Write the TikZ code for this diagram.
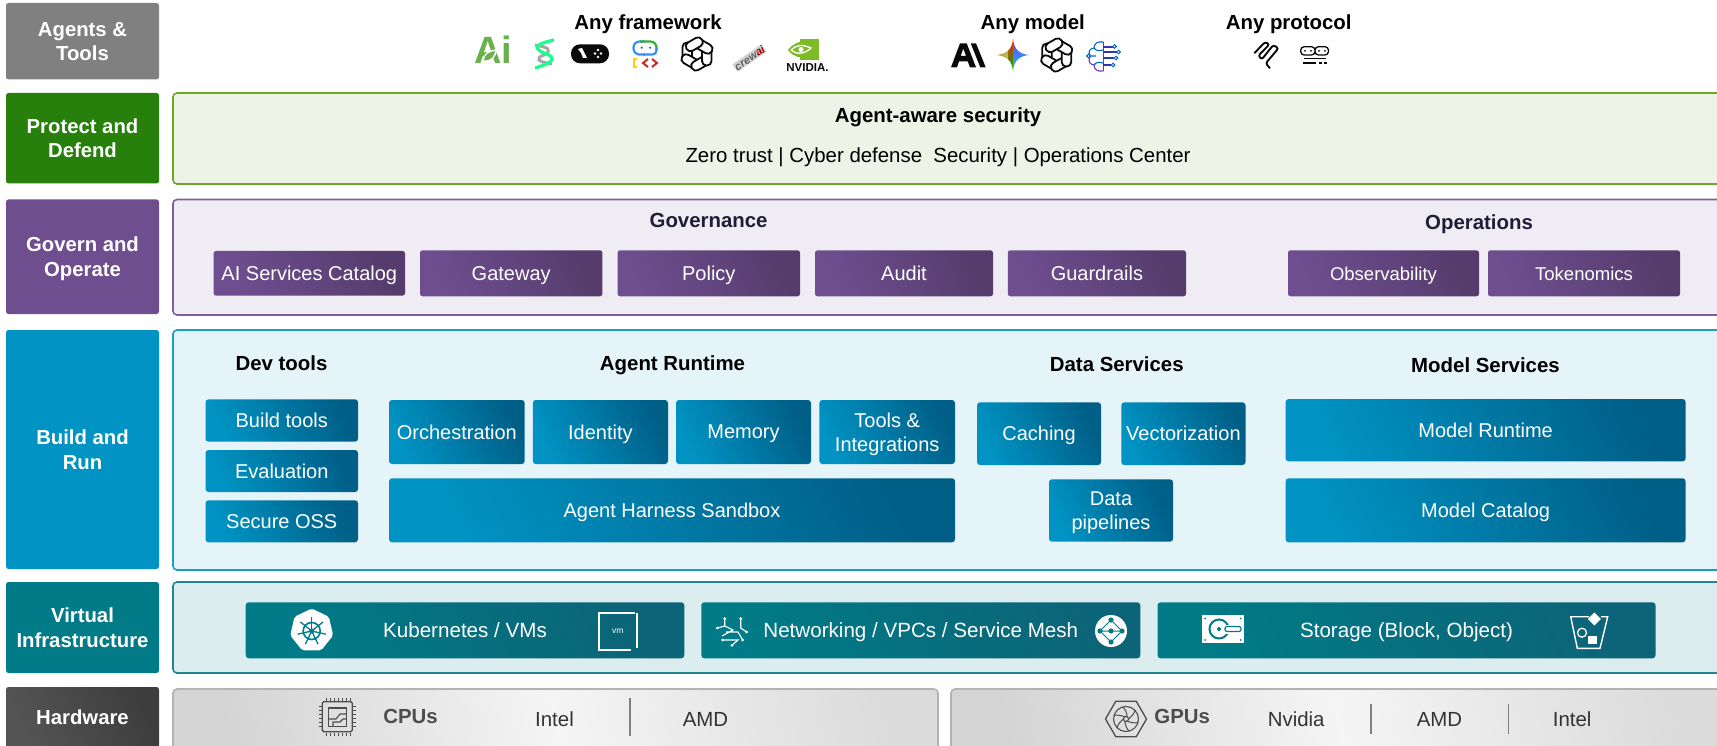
\documentclass[tikz,border=0pt]{standalone}
\usepackage{fontspec}
\setmainfont{Liberation Sans}
\usetikzlibrary{shapes.geometric}
\definecolor{tiergrey}{HTML}{808080}
\definecolor{tiergreen}{HTML}{26800B}
\definecolor{tierpurple}{HTML}{6F4E90}
\definecolor{tierblue}{HTML}{0093C3}
\definecolor{tierteal}{HTML}{007B87}
\definecolor{iconblack}{HTML}{0A0A0A}
\definecolor{hwgrey}{HTML}{4D4D4D}
\definecolor{navy}{HTML}{1E1E38}
\definecolor{leafgreen}{HTML}{6AB04C}
\definecolor{panelgreen}{HTML}{EDF3E5}
\definecolor{bordergreen}{HTML}{6AA621}
\definecolor{purpleend}{HTML}{553C6C}
\definecolor{blueend}{HTML}{005F87}
\definecolor{tealend}{HTML}{0C6478}
\newcommand{\chatlogo}[2]{%
\foreach \a in {0,60,...,300}
\draw [iconblack, fill=white, line width=1.8pt, rotate around={\a:(#1,#2)}, rounded corners=4.4pt] (#1-14.5,#2-11.5) rectangle (#1-5,#2+6.5);
}
\tikzset{
wh/.style 2 args={minimum width=#1pt, minimum height=#2pt},
tier/.style={rounded corners=2.5pt, inner sep=0pt, text depth=0pt, text=white, align=center, font=\fontsize{20.3}{24.5}\selectfont\bfseries},
panel/.style={rounded corners=4pt, line width=1.6pt, inner sep=0pt},
heading/.style={inner sep=0pt, text depth=0pt, align=center, font=\fontsize{20.4}{24}\selectfont\bfseries},
body/.style={inner sep=0pt, text depth=0pt, align=center, font=\fontsize{20.4}{24}\selectfont},
purplebox/.style={rounded corners=2.5pt, inner sep=0pt, text depth=0pt, text=white, align=center, font=\fontsize{20}{24}\selectfont, left color=tierpurple, right color=purpleend, shading angle=115},
bluebox/.style={rounded corners=3pt, inner sep=0pt, text depth=0pt, text=white, align=center, font=\fontsize{20}{24}\selectfont, left color=tierblue, right color=blueend, shading angle=115},
tealbox/.style={rounded corners=3pt, inner sep=0pt, text depth=0pt, text=white, align=center, font=\fontsize{20.6}{24}\selectfont, left color=tierteal, right color=tealend, shading angle=115},
hwpanel/.style={panel, draw=black!30, left color=black!17, right color=black!14, middle color=black!4, shading angle=100},
}
\begin{document}
\begin{tikzpicture}[x=1pt, y=-1pt]
\clip (0,0) rectangle (1717,746);
% tiers on the left
\node [tier, fill=tiergrey, wh={153}{76.5}] (agents) at (82.5,41.25) {Agents \&\\Tools};
\node [tier, fill=tiergreen, wh={153}{90.5}] (protect) at (82.5,138.25) {Protect and\\Defend};
\node [tier, fill=tierpurple, wh={153}{114.5}] (govern) at (82.5,256.75) {Govern and\\Operate};
\node [tier, fill=tierblue, wh={153}{239}] (build) at (82.5,449.5) {Build and\\Run};
\node [tier, fill=tierteal, wh={153}{91}] (virtual) at (82.5,627.5) {Virtual\\Infrastructure};
\node [tier, left color=black!67, right color=black!76, shading angle=115, wh={153}{61}] (hardware) at (82.5,717.5) {Hardware};
% panels
\node [panel, draw=bordergreen, fill=panelgreen, wh={1552}{91}] (protectpanel) at (949,138.5) {};
\node [panel, draw=tierpurple!90!white, fill=tierpurple!11!white, wh={1552}{115.5}] (governpanel) at (949,257.25) {};
\node [panel, draw=tierblue!90!white, fill=tierblue!10!white, wh={1552}{240}] (buildpanel) at (949,450) {};
\node [panel, draw=tierteal!90!white, fill=tierteal!14!white, wh={1552}{91}] (virtualpanel) at (949,627.5) {};
\node [hwpanel, wh={765}{63}] (cpupanel) at (555.5,720.5) {};
\node [hwpanel, wh={774}{63}] (gpupanel) at (1338,720.5) {};
% agents and tools
\node [heading] (anyframework) at (648,22.5) {Any framework};
\node [heading] (anymodel) at (1032.7,22.5) {Any model};
\node [heading] (anyprotocol) at (1288.7,22.5) {Any protocol};
\node [inner sep=0pt, text=leafgreen, font=\fontsize{38}{38}\selectfont\bfseries] (ailogo) at (493.5,50) {Ai};
\fill [white] (482,62) .. controls (482,53) and (490,50) .. (497,49) .. controls (497,57) and (491,63) .. (482,62);
\fill [leafgreen] (484,60.5) .. controls (484,54) and (490,52) .. (495,51) .. controls (495,56) and (490,61) .. (484,60.5);
\draw [gray!70, line width=3pt] (535,45) .. controls (548,47) and (553,50) .. (544,55) .. controls (535,58) and (537,62) .. (552,64);
\draw [green!50!cyan!90!white, line width=3.2pt] (554,40) .. controls (540,43) and (530,47) .. (544,53) .. controls (556,57) and (556,62) .. (535,68);
\node [fill=iconblack, rounded corners=9pt, wh={38}{19}, inner sep=0pt] (pilllogo) at (590,53.8) {};
\fill [white] (578,49) -- (582,48) -- (587,58) -- (583,58) -- (581,53) -- cycle;
\foreach \px/\py in {595/53.5,598/50,598/57,601/53.5} \fill [white] (\px,\py) circle (1.4);
\draw [blue!55!cyan!80!white, line width=2.2pt, rounded corners=6pt] (645,54.5) -- (633.5,54.5) -- (633.5,41.5) -- (645,41.5);
\draw [green!60!black!80!white, line width=2.2pt, rounded corners=6pt] (640,41.5) -- (656.5,41.5) -- (656.5,50);
\draw [blue!55!cyan!80!white, line width=2.2pt, rounded corners=4pt] (656.5,48) -- (656.5,54.5) -- (643,54.5);
\fill [blue!60!cyan] (641.7,47.7) circle (1.2) (650,47.7) circle (1.2);
\draw [yellow!70!orange, line width=2pt] (637,59) -- (634,59) -- (634,67) -- (637,67);
\draw [red!75!black!85!white, line width=2pt] (648,59) -- (643,63) -- (648,67) (652,59) -- (657,63) -- (652,67);
\chatlogo{697}{54}
\node [inner sep=.5pt, rotate=35, fill=gray!35, rounded corners=1pt, font=\fontsize{11}{12}\selectfont\bfseries\itshape, text=gray!75!black] (crewlogo) at (749.5,58) {crew\textcolor{red!65!black}{ai}};
\fill [leafgreen!60!lime!90!black] (800,39) rectangle (819,60);
\fill [leafgreen!60!lime!90!black] (788,50) .. controls (793,43) and (800,41) .. (808,41) -- (808,58) .. controls (800,58) and (793,57) .. (788,50);
\draw [white, line width=1.3pt] (791,50) .. controls (796,45) and (802,44) .. (811,48) .. controls (805,54) and (796,55) .. (791,50);
\fill [white] (801,49.5) circle (2.5);
\node [inner sep=0pt, text=iconblack, font=\fontsize{11.5}{12}\selectfont\bfseries] (nvidialogo) at (807.5,67.5) {NVIDIA.};
% any model
\fill [iconblack, even odd rule] (951,67.3) -- (960,43.3) -- (966.7,43.3) -- (976,67.3) -- (970,67.3) -- (967.7,61.3) -- (959,61.3) -- (957,67.3) -- cycle (960.7,56) -- (966,56) -- (963.3,48.5) -- cycle;
\fill [iconblack] (970.7,43.3) -- (976,43.3) -- (985.7,67.3) -- (980.3,67.3) -- cycle;
\begin{scope}
\clip (1013,39) .. controls (1014,49) and (1019,54) .. (1029,55) .. controls (1019,56) and (1014,61) .. (1013,71) .. controls (1012,61) and (1007,56) .. (997,55) .. controls (1007,54) and (1012,49) .. (1013,39) -- cycle;
\shade [top color=red!75!orange, bottom color=green!70!black] (997,39) rectangle (1013,71);
\shade [top color=purple!70!blue!80!white, bottom color=green!50!blue!60!white, middle color=blue!60!cyan!80!white] (1013,39) rectangle (1029,71);
\shade [left color=yellow!80!orange, right color=yellow!80!orange!0!white, opacity=.5] (997,50) rectangle (1008,60);
\end{scope}
\chatlogo{1056.7}{55}
\draw [blue!50!cyan!80!black, line width=1.1pt] (1103.3,42) -- (1103.3,71);
\draw [blue!50!cyan!80!black, line width=1.1pt] (1103.3,42) .. controls (1097,41) and (1094,44) .. (1094,48) .. controls (1089,49) and (1088,52) .. (1090,55);
\draw [blue!60!purple!80!white, line width=1.1pt] (1103.3,71) .. controls (1097,72) and (1094,69) .. (1094,65) .. controls (1089,64) and (1088,61) .. (1090,57);
\draw [blue!50!cyan!80!black, line width=1.1pt] (1090,56) -- (1096,56) (1094,48) .. controls (1096,51) and (1099,51) .. (1103,50) (1094,65) .. controls (1096,62) and (1099,62) .. (1103,63);
\draw [blue!50!cyan!80!black, line width=1.1pt] (1088.5,56) circle (1.8);
\draw [blue!60!black!80!white, line width=1.3pt] (1103.3,47) -- (1113,47) (1103.3,52) -- (1117,52) (1103.3,58) -- (1114,58) (1103.3,65) -- (1111,65);
\draw [blue!50!cyan!80!black, line width=1pt] (1114.5,46.5) circle (1.8) (1118.5,52) circle (1.8) (1116,58) circle (1.8) (1113,65) circle (1.8);
% any protocol
\draw [iconblack, line width=1.9pt, rounded corners=2.4pt] (1254.3,53.3) -- (1265,42) -- (1269.5,44.3) -- (1258.3,55.7) -- (1261.7,59.5) -- (1273.3,45) -- (1278.5,48.3) -- (1265.7,63.3) -- (1270,68.3);
\draw [iconblack, line width=1.3pt, rounded corners=3.5pt] (1300.7,46.7) rectangle (1315,55) (1315,46.7) rectangle (1328.5,55);
\fill [iconblack] (1305,50.8) circle (1) (1311,50.8) circle (1) (1319,50.8) circle (1) (1325,50.8) circle (1);
\draw [iconblack, line width=1.3pt] (1304,58.5) -- (1326,58.5) (1303,63) -- (1316,63) (1319,63) -- (1322,63) (1324,63) -- (1327,63);
% protect and defend
\node [heading, text=black] (security) at (938,115.5) {Agent-aware security};
\node [body, text=black] (zerotrust) at (938,155.5) {Zero trust | Cyber defense\ \ Security | Operations Center};
% govern and operate
\node [heading, text=navy] (governance) at (708.6,220.5) {Governance};
\node [heading, text=navy] (operations) at (1479,222) {Operations};
\node [purplebox, wh={191.4}{44.7}] (catalog) at (309.3,273.3) {AI Services Catalog};
\node [purplebox, wh={182.4}{46}] (gateway) at (511.2,273.3) {Gateway};
\node [purplebox, wh={182.4}{46}] (policy) at (708.8,273.3) {Policy};
\node [purplebox, wh={178}{46}] (audit) at (904,273.3) {Audit};
\node [purplebox, wh={178.2}{46}] (guardrails) at (1096.9,273.3) {Guardrails};
\node [purplebox, wh={191}{46}, font=\fontsize{18.5}{22}\selectfont] (observability) at (1383.5,273.3) {Observability};
\node [purplebox, wh={192}{46}, font=\fontsize{18.5}{22}\selectfont] (tokenomics) at (1584,273.3) {Tokenomics};
% build and run
\node [heading, text=black] (devtools) at (281.5,363) {Dev tools};
\node [heading, text=black] (agentruntime) at (672.5,363) {Agent Runtime};
\node [heading, text=black] (dataservices) at (1116.8,364) {Data Services};
\node [heading, text=black] (modelservices) at (1485.5,365) {Model Services};
\node [bluebox, wh={152.5}{42.4}] (buildtools) at (281.75,420.5) {Build tools};
\node [bluebox, wh={152.5}{42}] (evaluation) at (281.75,471) {Evaluation};
\node [bluebox, wh={152.5}{42}] (secureoss) at (281.75,521.3) {Secure OSS};
\node [bluebox, wh={135.7}{64}] (orchestration) at (456.85,432) {Orchestration};
\node [bluebox, wh={135.2}{64}] (identity) at (600.4,432) {Identity};
\node [bluebox, wh={135}{64}] (memory) at (743.5,432) {Memory};
\node [bluebox, wh={135.6}{64}] (integrations) at (887.2,432) {Tools \&\\Integrations};
\node [bluebox, wh={566}{64}] (harness) at (672,510.3) {Agent Harness Sandbox};
\node [bluebox, wh={124}{62.7}] (caching) at (1039,433.7) {Caching};
\node [bluebox, wh={124.2}{62.7}] (vectorization) at (1183.4,433.7) {Vectorization};
\node [bluebox, wh={124}{62.4}] (pipelines) at (1111,510.5) {Data\\pipelines};
\node [bluebox, wh={400}{62.3}] (modelruntime) at (1485.6,430.2) {Model Runtime};
\node [bluebox, wh={400}{64}] (modelcatalog) at (1485.6,510.3) {Model Catalog};
% virtual infrastructure
\node [tealbox, wh={438.6}{56}] (kubernetes) at (465,630.3) {Kubernetes / VMs};
\node [tealbox, wh={439}{56}] (networking) at (920.8,630.3) {Networking / VPCs / Service Mesh};
\node [tealbox, wh={498}{56}] (storage) at (1406.5,630.3) {Storage (Block, Object)};
\node [regular polygon, regular polygon sides=7, fill=white, rounded corners=2pt, minimum size=44pt, inner sep=0pt] (kubeicon) at (311.7,630.5) {};
\draw [tierteal, line width=1.6pt] (311.7,631) circle (8.5);
\fill [tierteal] (311.7,631) circle (2.5);
\foreach \a in {-90,-38.57,12.86,64.29,115.71,167.14,218.57}
\draw [tierteal, line width=1.3pt] (311.7,631) -- ++(\a:14.5);
\draw [white, line width=2pt] (635,612.7) -- (599,612.7) -- (599,649.5) -- (631,649.5) (636.5,613) -- (636.5,648);
\node [inner sep=0pt, text=white, font=\fontsize{8.5}{9}\selectfont] (vmlabel) at (617.7,631) {vm};
\draw [white, line width=1.1pt] (724.7,618.7) -- (724.7,626) -- (733,630) -- (722,636) (717.3,628) -- (724.7,626) (740.7,618.7) -- (740.7,628) -- (746.7,632) (726,632) -- (738,632) -- (742.7,640) (722.7,640) -- (738,640) -- (732,645.3);
\foreach \px/\py in {724.7/618.7,740.7/618.7,717.3/628,746.7/632,722.7/640,742.7/640,732/645.3}
\fill [white] (\px,\py) circle (1.5);
\fill [white] (1111,631) circle (16);
\draw [tierteal, line width=1pt] (1111,620) -- (1122,631) -- (1111,642) -- (1100,631) -- cycle (1100,631) -- (1122,631);
\foreach \px/\py/\pr in {1111/620/2.6,1122/631/2.6,1111/642/2.6,1100/631/2.6,1111/631/2.6}
\fill [tierteal] (\px,\py) circle (\pr);
\fill [white] (1201.7,615) rectangle (1244,643.3);
\foreach \px/\py in {1205/618.5,1240.5/618.5,1205/640,1240.5/640}
\fill [tierteal] (\px,\py) circle (1);
\draw [tierteal, line width=2pt] (1219,629) circle (9.5);
\fill [tierteal] (1219,629) circle (2);
\fill [white] (1224,624.5) rectangle (1232,633.5);
\draw [tierteal, line width=1.2pt, fill=white, rounded corners=2pt] (1225,626.5) rectangle (1241,631.5);
\draw [white, line width=1.4pt] (1589,616.7) -- (1570.7,616.7) -- (1577.3,648.3) -- (1600,648.3) -- (1607.7,616.7) -- (1601,616.7);
\fill [white] (1594.3,612.5) -- (1600.8,619) -- (1594.3,625.5) -- (1587.8,619) -- cycle;
\draw [white, line width=1.3pt] (1582,632.7) circle (4.5);
\fill [white] (1588.3,635.7) rectangle (1597.3,644.3);
% hardware
\draw [hwgrey, line width=1.3pt, rounded corners=1.5pt] (322.3,701.7) rectangle (352.3,731.7);
\draw [hwgrey, line width=1.1pt] (328.5,708) rectangle (346.5,726.5);
\draw [hwgrey, line width=1.1pt] (329,719) -- (336,719) -- (340,714) -- (346,714) (333,726) -- (333,722) -- (340,722) -- (343,719) -- (346,719);
\foreach \t in {326,330,334,338,342,346,350}
\draw [hwgrey, line width=.9pt] (\t,698) -- (\t,701) (\t,732.5) -- (\t,735.5);
\foreach \t in {706,710,714,718,722,726}
\draw [hwgrey, line width=.9pt] (318.5,\t) -- (321.5,\t) (353,\t) -- (356,\t);
\node [heading, text=hwgrey] (cpus) at (410.5,716.7) {CPUs};
\node [body, text=black!80] (cpuintel) at (554.5,719) {Intel};
\draw [gray, line width=1.2pt] (630,698) -- (630,736);
\node [body, text=black!80] (cpuamd) at (705.5,719) {AMD};
\node [regular polygon, regular polygon sides=6, draw=hwgrey, line width=1.3pt, minimum size=41pt, inner sep=0pt] (gpuhex) at (1126,719) {};
\draw [hwgrey, line width=1.1pt] (1126,719) circle (12.5) (1126,719) circle (2.5);
\foreach \a in {0,60,...,300}
\draw [hwgrey, line width=1pt, rotate around={\a:(1126,719)}] (1128.5,719) .. controls (1132,716) and (1134,714) .. (1135,710);
\node [heading, text=hwgrey] (gpus) at (1182.2,716.7) {GPUs};
\node [body, text=black!80] (gpunvidia) at (1296.2,719) {Nvidia};
\draw [gray, line width=1.2pt] (1371,704) -- (1371,734);
\node [body, text=black!80] (gpuamd) at (1439.5,719) {AMD};
\draw [gray, line width=1.2pt] (1508.3,704) -- (1508.3,734);
\node [body, text=black!80] (gpuintel) at (1572.2,719) {Intel};
\end{tikzpicture}
\end{document}
